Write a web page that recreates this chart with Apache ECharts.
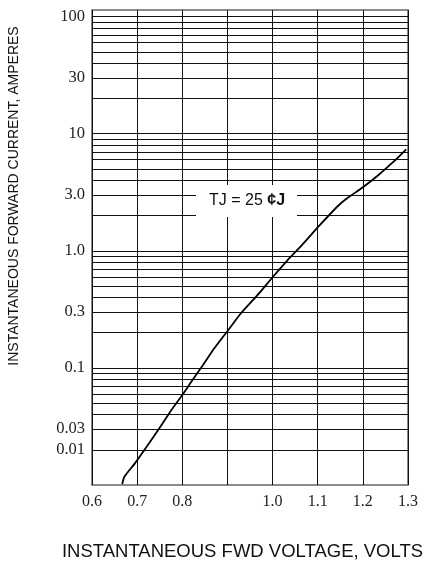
<!DOCTYPE html>
<html><head><meta charset="utf-8">
<script src="https://cdn.jsdelivr.net/npm/echarts@6/dist/echarts.min.js"></script>
<style>html,body{margin:0;padding:0;background:#fff}#c{width:430px;height:565px}</style>
</head><body><div id="c"></div>
<script>
// Forward voltage (V) and forward current (A)
const voltage = [0.667, 0.672, 0.695, 0.721, 0.754, 0.776, 0.800, 0.820, 0.846, 0.871, 0.902, 0.930, 0.967, 1.001, 1.033, 1.066, 1.101, 1.143, 1.165, 1.200, 1.232, 1.268, 1.296];
const current = [0.0102, 0.0118, 0.0153, 0.0212, 0.0325, 0.0437, 0.0587, 0.0762, 0.106, 0.147, 0.211, 0.293, 0.420, 0.601, 0.83, 1.13, 1.60, 2.38, 2.81, 3.49, 4.36, 5.77, 7.37];
const xTickLabels = ['0.6', '0.7', '0.8', '', '1.0', '1.1', '1.2', '1.3'];
const yGridDecades = [0.01, 0.1, 1, 10];
const yGridSteps = [1, 2, 3, 4, 5, 6, 7, 8, 9, 10];
const yLabelValues = [100, 30, 10, 3, 1, 0.3, 0.1, 0.03, 0.02];
const yLabelTexts = ['100', '30', '10', '3.0', '1.0', '0.3', '0.1', '0.03', '0.01'];
const annotationMain = 'TJ = 25 ';
const annotationUnit = '¢J';
const xName = 'INSTANTANEOUS FWD VOLTAGE, VOLTS';
const yName = 'INSTANTANEOUS FORWARD CURRENT, AMPERES';

const chart = echarts.init(document.getElementById('c'), null, {renderer: 'canvas'});

const gridValues = [];
yGridDecades.forEach(d => yGridSteps.forEach(s => {
  const v = +(d * s).toPrecision(6);
  if (v > 0.01 && gridValues.indexOf(v) < 0) gridValues.push(v);
}));
const markData = gridValues.map(v => {
  const li = yLabelValues.findIndex(l => Math.abs(l - v) < 1e-9);
  return {
    yAxis: v,
    label: li >= 0 ? {show: true, formatter: yLabelTexts[li]} : {show: false}
  };
});

chart.setOption({
  animation: false,
  backgroundColor: '#fff',
  grid: {left: 92, right: 22, top: 10, bottom: 80, show: true, borderColor: '#666', borderWidth: 1.5, backgroundColor: 'transparent'},
  xAxis: {
    type: 'value', min: 0.6, max: 1.3, interval: 0.1,
    axisLine: {show: false}, axisTick: {show: false},
    axisLabel: {
      margin: 9, fontFamily: 'Liberation Serif', fontSize: 16, color: '#222',
      formatter: v => xTickLabels[Math.round((v - 0.6) * 10)] || ''
    },
    splitLine: {show: true, lineStyle: {color: '#111', width: 1}}
  },
  yAxis: {
    type: 'log', logBase: 10, min: 0.01, max: 114,
    axisLine: {show: false}, axisTick: {show: false}, axisLabel: {show: false}, splitLine: {show: false}
  },
  graphic: [
    {type: 'rect', z: 100, shape: {x: 196, y: 185, width: 101, height: 32}, style: {fill: '#fff'}},
    {type: 'text', z: 101, x: 247, y: 201, style: {
      text: '{a|' + annotationMain + '}{b|' + annotationUnit + '}',
      rich: {
        a: {fontFamily: 'Liberation Sans', fontSize: 16, fill: '#111'},
        b: {fontFamily: 'Liberation Sans', fontSize: 16, fontWeight: 'bold', fill: '#111'}
      },
      align: 'center', verticalAlign: 'middle'
    }},
    {type: 'text', x: 14, y: 196, rotation: Math.PI / 2, style: {
      text: yName, fontFamily: 'Liberation Sans', fontSize: 14, fill: '#111', align: 'center', verticalAlign: 'middle'
    }},
    {type: 'text', x: 242.5, y: 552, style: {
      text: xName, fontFamily: 'Liberation Sans', fontSize: 18.5, fill: '#111', align: 'center', verticalAlign: 'middle'
    }}
  ],
  series: [{
    type: 'line',
    data: voltage.map((v, i) => [v, current[i]]),
    symbol: 'none', smooth: 0.25,
    lineStyle: {color: '#000', width: 1.8},
    z: 5,
    markLine: {
      silent: true, symbol: ['none', 'none'], animation: false,
      lineStyle: {color: '#111', width: 1, type: 'solid'},
      label: {position: 'start', distance: 7, fontFamily: 'Liberation Serif', fontSize: 16.5, color: '#222'},
      emphasis: {disabled: true},
      data: markData
    }
  }]
});
</script></body></html>
